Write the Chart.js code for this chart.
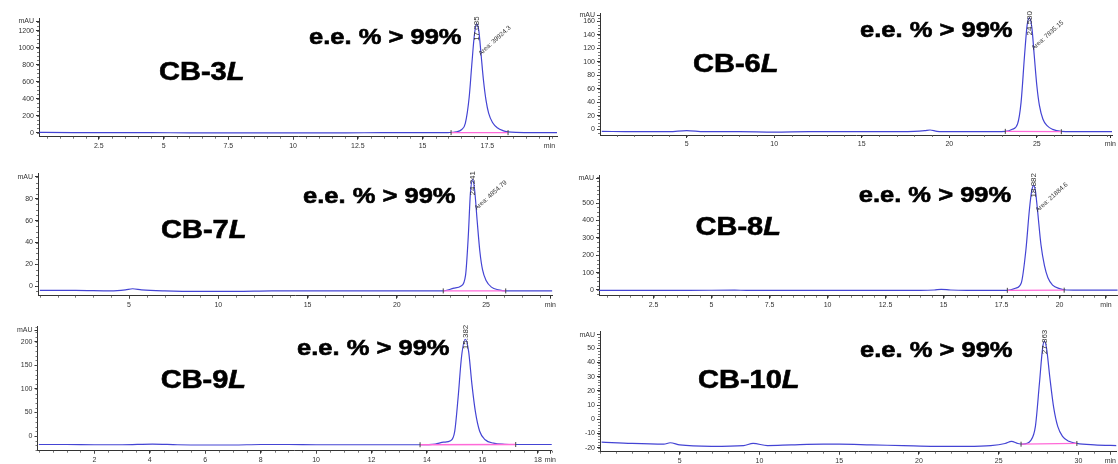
<!DOCTYPE html>
<html>
<head>
<meta charset="utf-8">
<script src="https://cdn.jsdelivr.net/npm/chart.js@4.4.1/dist/chart.umd.min.js"></script>
<style>
    html, body { margin: 0; padding: 0; background: #fff; overflow: hidden; }
    body { width: 1118px; height: 464px; position: relative; }
    .panel { position: absolute; }
</style>
</head>
<body>
<div class="panel" style="left:0;top:0;width:558px;height:152px"><canvas id="c1"></canvas></div>
<div class="panel" style="left:558px;top:0;width:560px;height:152px"><canvas id="c2"></canvas></div>
<div class="panel" style="left:0;top:152px;width:558px;height:162px"><canvas id="c3"></canvas></div>
<div class="panel" style="left:558px;top:152px;width:560px;height:162px"><canvas id="c4"></canvas></div>
<div class="panel" style="left:0;top:305px;width:558px;height:159px"><canvas id="c5"></canvas></div>
<div class="panel" style="left:558px;top:305px;width:560px;height:159px"><canvas id="c6"></canvas></div>
<script>
// compound names, text
var compoundNames = ['CB-3', 'CB-6', 'CB-7', 'CB-8', 'CB-9', 'CB-10'];
var nameSuffix = 'L';
var eeText = 'e.e. % > 99%';
var peakTimes = [17.085, 24.580, 24.241, 18.882, 15.382, 27.863];
var peakLabels = ['17.085', '24.580', '24.241', '18.882', '15.382', '27.863'];
var areaLabels = ['Area: 39924.3', 'Area: 7835.15', 'Area: 4854.79', 'Area: 21884.6', '', ''];

// CB-3L trace (min, mAU)
var t1 = [0.2, 1.5, 3, 4.5, 6, 7.5, 9, 10.5, 12, 13.5, 15, 16.0, 16.3, 16.5, 16.65, 16.8, 16.9, 17.0, 17.085, 17.17, 17.25, 17.35, 17.45, 17.55, 17.7, 17.9, 18.1, 18.3, 18.6, 19.2, 20.2];
var v1 = [3, 2, 1, 0, -1, -2, -2, -1, -1, 0, 0, 2, 10, 35, 110, 420, 800, 1150, 1280, 1200, 950, 620, 380, 230, 120, 55, 25, 10, 3, 1, 0];
// CB-6L
var t2 = [0.15, 2, 4, 5, 6, 8, 10, 12, 14, 16, 18, 18.6, 18.9, 19.3, 20, 22, 23.2, 23.6, 23.9, 24.1, 24.3, 24.45, 24.58, 24.72, 24.85, 25.0, 25.15, 25.35, 25.6, 25.9, 26.4, 27, 29.4];
var v2 = [-3, -3.5, -3.5, -2, -3.5, -3.5, -4, -3.5, -3.5, -3.5, -3, -2, -1, -3, -3.5, -3.5, -3, 0, 8, 40, 110, 155, 165, 150, 110, 65, 35, 15, 5, 0, -3, -3.5, -3.5];
// CB-7L
var t3 = [0, 2, 4, 4.8, 5.2, 5.7, 7, 9, 11, 13, 15, 17, 19, 21, 22.6, 23.2, 23.6, 23.85, 24.0, 24.12, 24.241, 24.36, 24.5, 24.65, 24.8, 25.0, 25.3, 25.7, 26.1, 27, 28.8];
var v3 = [-4, -4, -4.5, -3.5, -2.5, -3.5, -4.5, -5, -5, -4.5, -4.5, -4.5, -4.5, -4.5, -4.5, -2, 0, 10, 45, 85, 98, 88, 60, 32, 15, 5, -1, -3.5, -4.5, -4.5, -4.5];
// CB-8L
var t4 = [0.1, 2, 4, 6, 6.5, 8, 10, 12, 14, 14.6, 14.9, 15.3, 16, 17, 17.75, 18.1, 18.35, 18.55, 18.7, 18.8, 18.882, 18.96, 19.05, 19.2, 19.35, 19.5, 19.7, 20.0, 20.3, 21, 22.5];
var v4 = [-2, -2, -2, -1, -2, -2, -2, -2, -2, 0, 4, 0, -2, -2, -2, 10, 40, 230, 460, 570, 600, 570, 460, 260, 140, 70, 28, 8, 0, -1, -1];
// CB-9L
var t5 = [0, 1, 2, 3, 4.1, 5, 6, 7, 8, 9, 10, 11, 12, 13, 13.75, 14.3, 14.6, 14.85, 15.0, 15.12, 15.25, 15.382, 15.5, 15.62, 15.75, 15.9, 16.1, 16.4, 16.8, 17.2, 18.6];
var v5 = [-18, -18, -18.5, -18.5, -17, -18.5, -19, -19, -18, -18, -18.5, -18.5, -18.5, -18.5, -18.5, -17, -13, -10, 10, 80, 170, 205, 180, 110, 50, 10, -8, -15, -17.5, -18, -18];
// CB-10L
var t6 = [0.1, 2, 4, 4.4, 5, 7, 9, 9.6, 10.5, 12, 14, 15, 17, 19, 21, 23, 24.5, 25.4, 25.8, 26.2, 26.5, 27.0, 27.3, 27.55, 27.75, 27.863, 28.0, 28.2, 28.45, 28.7, 29.0, 29.4, 29.9, 31, 32.5];
var v6 = [-16, -17, -17.5, -16.5, -18, -19, -18.5, -17, -18.5, -18, -17.5, -17.5, -18, -18.5, -19, -19, -18.5, -17, -15.5, -17, -17.5, -15, -5, 25, 50, 55, 50, 30, 8, -5, -12, -15.5, -17, -18, -18.5];

// integration baselines (start/end time, mAU)
var baseT = [[16.1, 18.3], [23.2, 26.4], [22.6, 26.1], [17.75, 20.2], [13.75, 17.2], [26.4, 29.9]];
var baseV = [[1, 1], [-3, -3.5], [-4.5, -4.5], [-2, -1], [-18.5, -18], [-17.5, -17]];

// axis tick values / labels
var xTicks1 = [2.5, 5, 7.5, 10, 12.5, 15, 17.5], xLabels1 = ['2.5', '5', '7.5', '10', '12.5', '15', '17.5'];
var yTicks1 = [0, 200, 400, 600, 800, 1000, 1200];
var xTicks2 = [5, 10, 15, 20, 25], xLabels2 = ['5', '10', '15', '20', '25'];
var yTicks2 = [0, 20, 40, 60, 80, 100, 120, 140, 160];
var xTicks3 = [5, 10, 15, 20, 25], xLabels3 = ['5', '10', '15', '20', '25'];
var yTicks3 = [0, 20, 40, 60, 80];
var xTicks4 = [2.5, 5, 7.5, 10, 12.5, 15, 17.5, 20], xLabels4 = ['2.5', '5', '7.5', '10', '12.5', '15', '17.5', '20'];
var yTicks4 = [0, 100, 200, 300, 400, 500];
var xTicks5 = [2, 4, 6, 8, 10, 12, 14, 16, 18], xLabels5 = ['2', '4', '6', '8', '10', '12', '14', '16', '18'];
var yTicks5 = [0, 50, 100, 150, 200];
var xTicks6 = [5, 10, 15, 20, 25, 30], xLabels6 = ['5', '10', '15', '20', '25', '30'];
var yTicks6 = [-20, -10, 0, 10, 20, 30, 40, 50];

var FONT = '"Liberation Sans", Arial, sans-serif';
var STRETCH = 1.16;

var panels = [
    {id: 'c1', t: t1, v: v1, xt: xTicks1, xl: xLabels1, yt: yTicks1, box: [0, 0, 558, 152],
        axisLeft: 39, axisTop: 18.3, axisBottom: 136.7, axisRight: 557,
        xMin: 0.19, xMax: 20.19, yMin: -47, yMax: 1346, mauAt: 1314, minAt: 19.9, xMinor: 0.5, yMinor: 50,
        nameX: 159, nameY: 80, eeX: 309, eeY: 44},
    {id: 'c2', t: t2, v: v2, xt: xTicks2, xl: xLabels2, yt: yTicks2, box: [558, 0, 560, 152],
        axisLeft: 600, axisTop: 13, axisBottom: 135, axisRight: 1118,
        xMin: 0.05, xMax: 29.3, yMin: -8.4, yMax: 172.3, mauAt: 169.3, minAt: 29.2, xMinor: 1, yMinor: 5,
        nameX: 693, nameY: 72, eeX: 860, eeY: 36.7},
    {id: 'c3', t: t3, v: v3, xt: xTicks3, xl: xLabels3, yt: yTicks3, box: [0, 152, 558, 162],
        axisLeft: 38, axisTop: 173, axisBottom: 295.7, axisRight: 557,
        xMin: -0.1, xMax: 28.7, yMin: -8.9, yMax: 103.9, mauAt: 100.5, minAt: 28.6, xMinor: 1, yMinor: 5,
        nameX: 161, nameY: 238, eeX: 303, eeY: 203},
    {id: 'c4', t: t4, v: v4, xt: xTicks4, xl: xLabels4, yt: yTicks4, box: [558, 152, 560, 162],
        axisLeft: 599, axisTop: 175, axisBottom: 295.7, axisRight: 1118,
        xMin: 0.15, xMax: 22.52, yMin: -32.8, yMax: 661, mauAt: 643.7, minAt: 22.0, xMinor: 0.5, yMinor: 25,
        nameX: 695.5, nameY: 235, eeX: 858.7, eeY: 201.7},
    {id: 'c5', t: t5, v: v5, xt: xTicks5, xl: xLabels5, yt: yTicks5, box: [0, 305, 558, 159],
        axisLeft: 37.5, axisTop: 326.7, axisBottom: 450.7, axisRight: 557,
        xMin: -0.05, xMax: 18.5, yMin: -31.1, yMax: 231.6, mauAt: 224.6, minAt: 18.45, xMinor: 0.5, yMinor: 10,
        nameX: 160.7, nameY: 387.7, eeX: 297, eeY: 355},
    {id: 'c6', t: t6, v: v6, xt: xTicks6, xl: xLabels6, yt: yTicks6, box: [558, 305, 560, 159],
        axisLeft: 600, axisTop: 331.7, axisBottom: 451.7, axisRight: 1118,
        xMin: 0.0, xMax: 32.37, yMin: -22.8, yMax: 61.7, mauAt: 59.4, minAt: 32, xMinor: 1, yMinor: 2,
        nameX: 698, nameY: 387.7, eeX: 860, eeY: 356.7}
];

function heavyText(ctx, txt, x, y) {
    ctx.fillText(txt, x, y);
    ctx.strokeText(txt, x, y);
}

function decorPlugin(p, k) {
    return {
        id: 'decor' + k,
        afterDraw: function (chart) {
            var ctx = chart.ctx, xs = chart.scales.x, ys = chart.scales.y, a = chart.chartArea;
            var ox = p.box[0], oy = p.box[1];
            ctx.save();
            // minor ticks
            ctx.strokeStyle = '#555';
            ctx.lineWidth = 0.8;
            ctx.beginPath();
            var s = Math.ceil(p.xMin / p.xMinor) * p.xMinor;
            for (var x = s; x <= p.xMax; x += p.xMinor) {
                var px = Math.round(xs.getPixelForValue(x)) + 0.5;
                ctx.moveTo(px, a.bottom);
                ctx.lineTo(px, a.bottom + 2);
            }
            s = Math.ceil(p.yMin / p.yMinor) * p.yMinor;
            for (var y = s; y <= p.yMax; y += p.yMinor) {
                var py = Math.round(ys.getPixelForValue(y)) + 0.5;
                ctx.moveTo(a.left - 2, py);
                ctx.lineTo(a.left, py);
            }
            ctx.stroke();

            // big labels
            ctx.fillStyle = '#000';
            ctx.strokeStyle = '#000';
            ctx.lineWidth = 0.6;
            ctx.textBaseline = 'alphabetic';
            ctx.textAlign = 'left';
            ctx.save();
            ctx.translate(p.nameX - ox, p.nameY - oy);
            ctx.scale(STRETCH, 1);
            ctx.font = 'bold 25px ' + FONT;
            heavyText(ctx, compoundNames[k], 0, 0);
            var w = ctx.measureText(compoundNames[k]).width;
            ctx.font = 'italic bold 25px ' + FONT;
            heavyText(ctx, nameSuffix, w, 0);
            ctx.restore();

            ctx.save();
            ctx.translate(p.eeX - ox, p.eeY - oy);
            ctx.scale(STRETCH, 1);
            ctx.font = 'bold 22px ' + FONT;
            heavyText(ctx, eeText, 0, 0);
            ctx.restore();

            // peak annotations
            var pk = xs.getPixelForValue(peakTimes[k]);
            ctx.fillStyle = '#333';
            ctx.save();
            ctx.translate(pk, a.top - 2);
            ctx.rotate(-Math.PI / 2);
            ctx.font = '8px ' + FONT;
            ctx.textAlign = 'right';
            ctx.textBaseline = 'middle';
            ctx.fillText(peakLabels[k], 0, 0);
            ctx.restore();

            if (areaLabels[k]) {
                ctx.save();
                ctx.translate(pk + 3, a.top + 36);
                ctx.rotate(-42 * Math.PI / 180);
                ctx.font = '6.5px ' + FONT;
                ctx.textAlign = 'left';
                ctx.textBaseline = 'middle';
                ctx.fillText(areaLabels[k], 0, 0);
                ctx.restore();
            }
            ctx.restore();
        }
    };
}

panels.forEach(function (p, k) {
    var pts = p.t.map(function (t, i) { return {x: t, y: p.v[i]}; });
    var base = baseT[k].map(function (t, i) { return {x: t, y: baseV[k][i]}; });
    var box = p.box;

    new Chart(document.getElementById(p.id), {
        type: 'line',
        data: {
            datasets: [{
                data: base,
                borderColor: '#ff6ad8',
                borderWidth: 1.3,
                pointRadius: 2.5,
                pointStyle: 'line',
                rotation: 90,
                pointBorderColor: '#444',
                pointBorderWidth: 1,
                order: 0
            }, {
                data: pts,
                borderColor: '#4444d4',
                borderWidth: 1.2,
                pointRadius: 0,
                cubicInterpolationMode: 'monotone',
                order: 1
            }]
        },
        options: {
            responsive: true,
            maintainAspectRatio: false,
            animation: false,
            layout: {
                autoPadding: false,
                padding: {top: p.axisTop - box[1], right: box[0] + box[2] - p.axisRight, left: 0, bottom: 0}
            },
            plugins: {legend: {display: false}, tooltip: {enabled: false}},
            scales: {
                x: {
                    type: 'linear',
                    min: p.xMin,
                    max: p.xMax,
                    afterFit: function (s) { s.height = box[1] + box[3] - p.axisBottom; },
                    afterBuildTicks: function (s) {
                        var list = p.xt.map(function (v) { return {value: v}; });
                        list.push({value: p.minAt});
                        s.ticks = list;
                    },
                    grid: {drawOnChartArea: false, tickLength: 3, tickColor: '#333'},
                    border: {color: '#333', width: 1},
                    ticks: {
                        autoSkip: false, maxRotation: 0, padding: 2, color: '#333',
                        font: {size: 7, family: FONT},
                        callback: function (v, i) { return i < p.xl.length ? p.xl[i] : 'min'; }
                    }
                },
                y: {
                    min: p.yMin,
                    max: p.yMax,
                    afterFit: function (s) { s.width = p.axisLeft - box[0]; },
                    afterBuildTicks: function (s) {
                        var list = p.yt.map(function (v) { return {value: v}; });
                        list.push({value: p.mauAt});
                        s.ticks = list;
                    },
                    grid: {drawOnChartArea: false, tickLength: 3, tickColor: '#333'},
                    border: {color: '#333', width: 1},
                    ticks: {
                        padding: 2, color: '#333',
                        font: {size: 7, family: FONT},
                        callback: function (v, i) { return i < p.yt.length ? String(p.yt[i]) : 'mAU'; }
                    }
                }
            }
        },
        plugins: [decorPlugin(p, k)]
    });
});
</script>
</body>
</html>
